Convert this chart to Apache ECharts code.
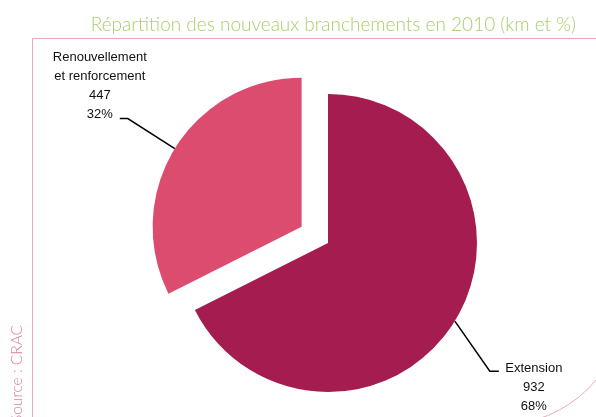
<!DOCTYPE html>
<html>
<head>
<meta charset="utf-8">
<script src="https://cdn.jsdelivr.net/npm/echarts@6/dist/echarts.min.js"></script>
<style>
  html, body { margin: 0; padding: 0; background: #fff; }
  #main { width: 596px; height: 417px; }
</style>
</head>
<body>
<div id="main"></div>
<script>
var categories = ['Extension', 'Renouvellement\net renforcement'];
var values = [932, 447];
var exploded = [false, true];
var colors = ['#A51C50', '#DC4C6E'];

var chart = echarts.init(document.getElementById('main'));

var pieCenter = [328, 243];
var pieRadius = 149;
var explodeOffset = 31;

// décalage des lignes de rappel (coude, puis segment horizontal) et du texte
var leader = [
  { dx: 35, dy: 50, tail: 9, tx: 35, ty: -12, va: 'top' },
  { dx: -47, dy: -30, tail: -8, tx: -20, ty: 5, va: 'bottom' }
];

var total = 0;
for (var i = 0; i < values.length; i++) total += values[i];

function labelLayout(params) {
  var pts = params.labelLinePoints;
  if (!pts) return {};
  var p0 = pts[0];
  var l = leader[params.dataIndex];
  var elbow = [p0[0] + l.dx, p0[1] + l.dy];
  var tail = [elbow[0] + l.tail, elbow[1]];
  return {
    x: tail[0] + l.tx,
    y: tail[1] + l.ty,
    align: 'center',
    verticalAlign: l.va,
    labelLinePoints: [p0, elbow, tail]
  };
}

// une série par part : la part détachée est décalée le long de son angle médian
var series = [];
var cum = 0;
for (var k = 0; k < categories.length; k++) {
  var mid = (cum + values[k] / 2) / total * Math.PI * 2;
  cum += values[k];
  var off = exploded[k] ? explodeOffset : 0;
  var data = [];
  for (var j = 0; j < categories.length; j++) {
    var visible = j === k;
    data.push({
      name: categories[j],
      value: values[j],
      itemStyle: { color: visible ? colors[j] : 'rgba(0,0,0,0)' },
      label: { show: visible },
      labelLine: { show: visible }
    });
  }
  series.push({
    type: 'pie',
    center: [pieCenter[0] + off * Math.sin(mid), pieCenter[1] - off * Math.cos(mid)],
    radius: pieRadius,
    startAngle: 90,
    percentPrecision: 0,
    silent: true,
    label: {
      position: 'outside',
      formatter: '{b}\n{c}\n{d}%',
      color: '#111',
      fontFamily: 'Liberation Sans',
      fontSize: 13,
      lineHeight: 19,
      align: 'center'
    },
    labelLine: {
      length: 55,
      length2: 8,
      lineStyle: { color: '#000', width: 1.5 }
    },
    labelLayout: labelLayout,
    data: data
  });
}

var option = {
  backgroundColor: '#ffffff',
  animation: false,
  title: {
    text: 'Répartition des nouveaux branchements en 2010 (km et %)',
    right: 15,
    top: 10,
    textStyle: {
      color: '#A8CF6C',
      fontFamily: 'Lato',
      fontWeight: 300,
      fontSize: 19
    }
  },
  graphic: [
    // cadre décoratif
    { type: 'line', shape: { x1: 32, y1: 38.5, x2: 596, y2: 38.5 }, style: { stroke: '#E8A8B9', lineWidth: 1 } },
    { type: 'line', shape: { x1: 32.5, y1: 38, x2: 32.5, y2: 417 }, style: { stroke: '#E8A8B9', lineWidth: 1 } },
    { type: 'arc', shape: { cx: 500, cy: 300, r: 125, startAngle: 0, endAngle: Math.PI / 2 }, style: { stroke: '#E8A8B9', lineWidth: 1, fill: null } },
    {
      type: 'text',
      x: 25, y: 423,
      rotation: Math.PI / 2,
      style: {
        text: 'Source : CRAC',
        fill: '#D880A5',
        font: '300 15.5px Lato',
        textAlign: 'left',
        textVerticalAlign: 'bottom'
      }
    }
  ],
  series: series
};

chart.setOption(option);
</script>
</body>
</html>
